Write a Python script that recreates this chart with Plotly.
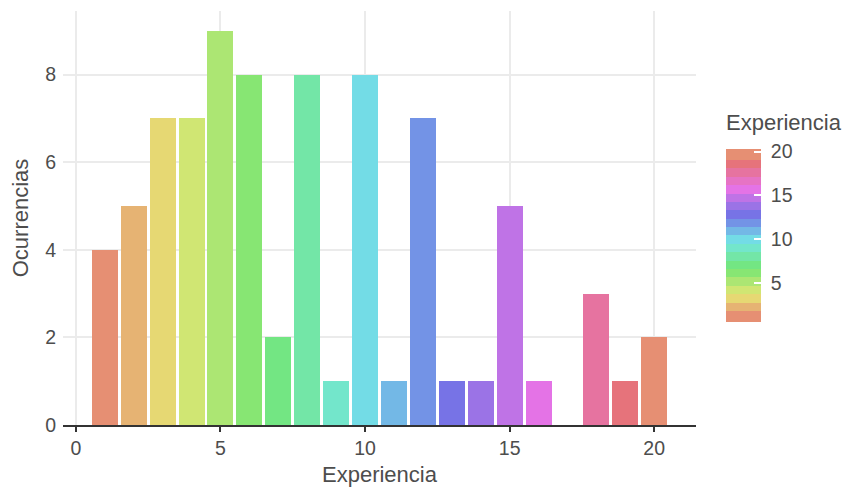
import plotly.graph_objects as go

# Data
experiencia = [1, 2, 3, 4, 5, 6, 7, 8, 9, 10, 11, 12, 13, 14, 15, 16, 18, 19, 20]
ocurrencias = [4, 5, 7, 7, 9, 8, 2, 8, 1, 8, 1, 7, 1, 1, 5, 1, 3, 1, 2]

x_ticks = [0, 5, 10, 15, 20]
y_ticks = [0, 2, 4, 6, 8]
cbar_ticks = [5, 10, 15, 20]
cbar_labels = ["5", "10", "15", "20"]

# Palette (one colour per level 1..20)
palette = ["#E68F73", "#E6B373", "#E6D873", "#D0E673", "#ACE673", "#87E673",
           "#73E683", "#73E6A7", "#73E6CB", "#73DCE6", "#73B8E6", "#7393E6",
           "#7773E6", "#9B73E6", "#BF73E6", "#E473E6", "#E673C4", "#E673A0",
           "#E6737B", "#E68F73"]

cmin, cmax = 0.59, 20.31
# stepped colorscale: edge bands larger, as in the reference colour bar
edge = 0.0637
inner = (1 - 2 * edge) / 18
bounds = [0.0] + [edge + inner * i for i in range(19)] + [1.0]
colorscale = []
for i, c in enumerate(palette):
    colorscale.append([bounds[i], c])
    colorscale.append([bounds[i + 1], c])

font_family = "Liberation Sans, Arial, sans-serif"
txt = "#4D4D4D"

fig = go.Figure()
fig.add_trace(go.Bar(
    x=experiencia, y=ocurrencias, width=0.9,
    marker=dict(color=experiencia, colorscale=colorscale, cmin=cmin, cmax=cmax,
                line=dict(width=0),
                colorbar=dict(
                    thickness=35, len=173, lenmode="pixels",
                    x=1.0474, xanchor="left", y=0.458, yanchor="middle",
                    xpad=0, ypad=0, outlinewidth=0,
                    tickvals=cbar_ticks,
                    ticktext=["\u00a0" + t for t in cbar_labels],
                    ticks="inside", ticklen=7,
                    tickcolor="white", tickwidth=1.5,
                    tickfont=dict(size=19.5, color=txt, family=font_family),
                )),
    showlegend=False,
    hoverinfo="x+y",
))

# colour bar title
fig.add_annotation(
    text="Experiencia", xref="paper", yref="paper", x=1.0442, y=0.7318,
    xanchor="left", yanchor="middle", showarrow=False,
    font=dict(size=22, color=txt, family=font_family),
)

fig.update_layout(
    width=847, height=489,
    margin=dict(l=62.5, r=151, t=11, b=64, autoexpand=False),
    plot_bgcolor="white", paper_bgcolor="white",
    font=dict(family=font_family, color=txt),
    bargap=0,
)
fig.update_xaxes(
    range=[-0.445, 21.445], tickvals=x_ticks, ticks="outside", ticklen=5,
    tickcolor="#333333", tickwidth=1.5,
    showline=True, linecolor="#333333", linewidth=1.5,
    showgrid=True, gridcolor="#EBEBEB", gridwidth=1.5, zeroline=False,
    tickfont=dict(size=19.5, color=txt, family=font_family),
    title=dict(text="Experiencia", font=dict(size=22, color=txt, family=font_family), standoff=8),
)
fig.update_yaxes(
    range=[0, 9.45], tickvals=y_ticks, ticks="outside", ticklen=2,
    tickcolor="rgba(0,0,0,0)",
    showline=False, showgrid=True, gridcolor="#EBEBEB", gridwidth=1.5, zeroline=False,
    tickfont=dict(size=19.5, color=txt, family=font_family),
    title=dict(text="Ocurrencias", font=dict(size=22, color=txt, family=font_family), standoff=10),
)

fig.write_html("out.html", config={"displayModeBar": False},
               post_script="document.body.style.margin='0';")
